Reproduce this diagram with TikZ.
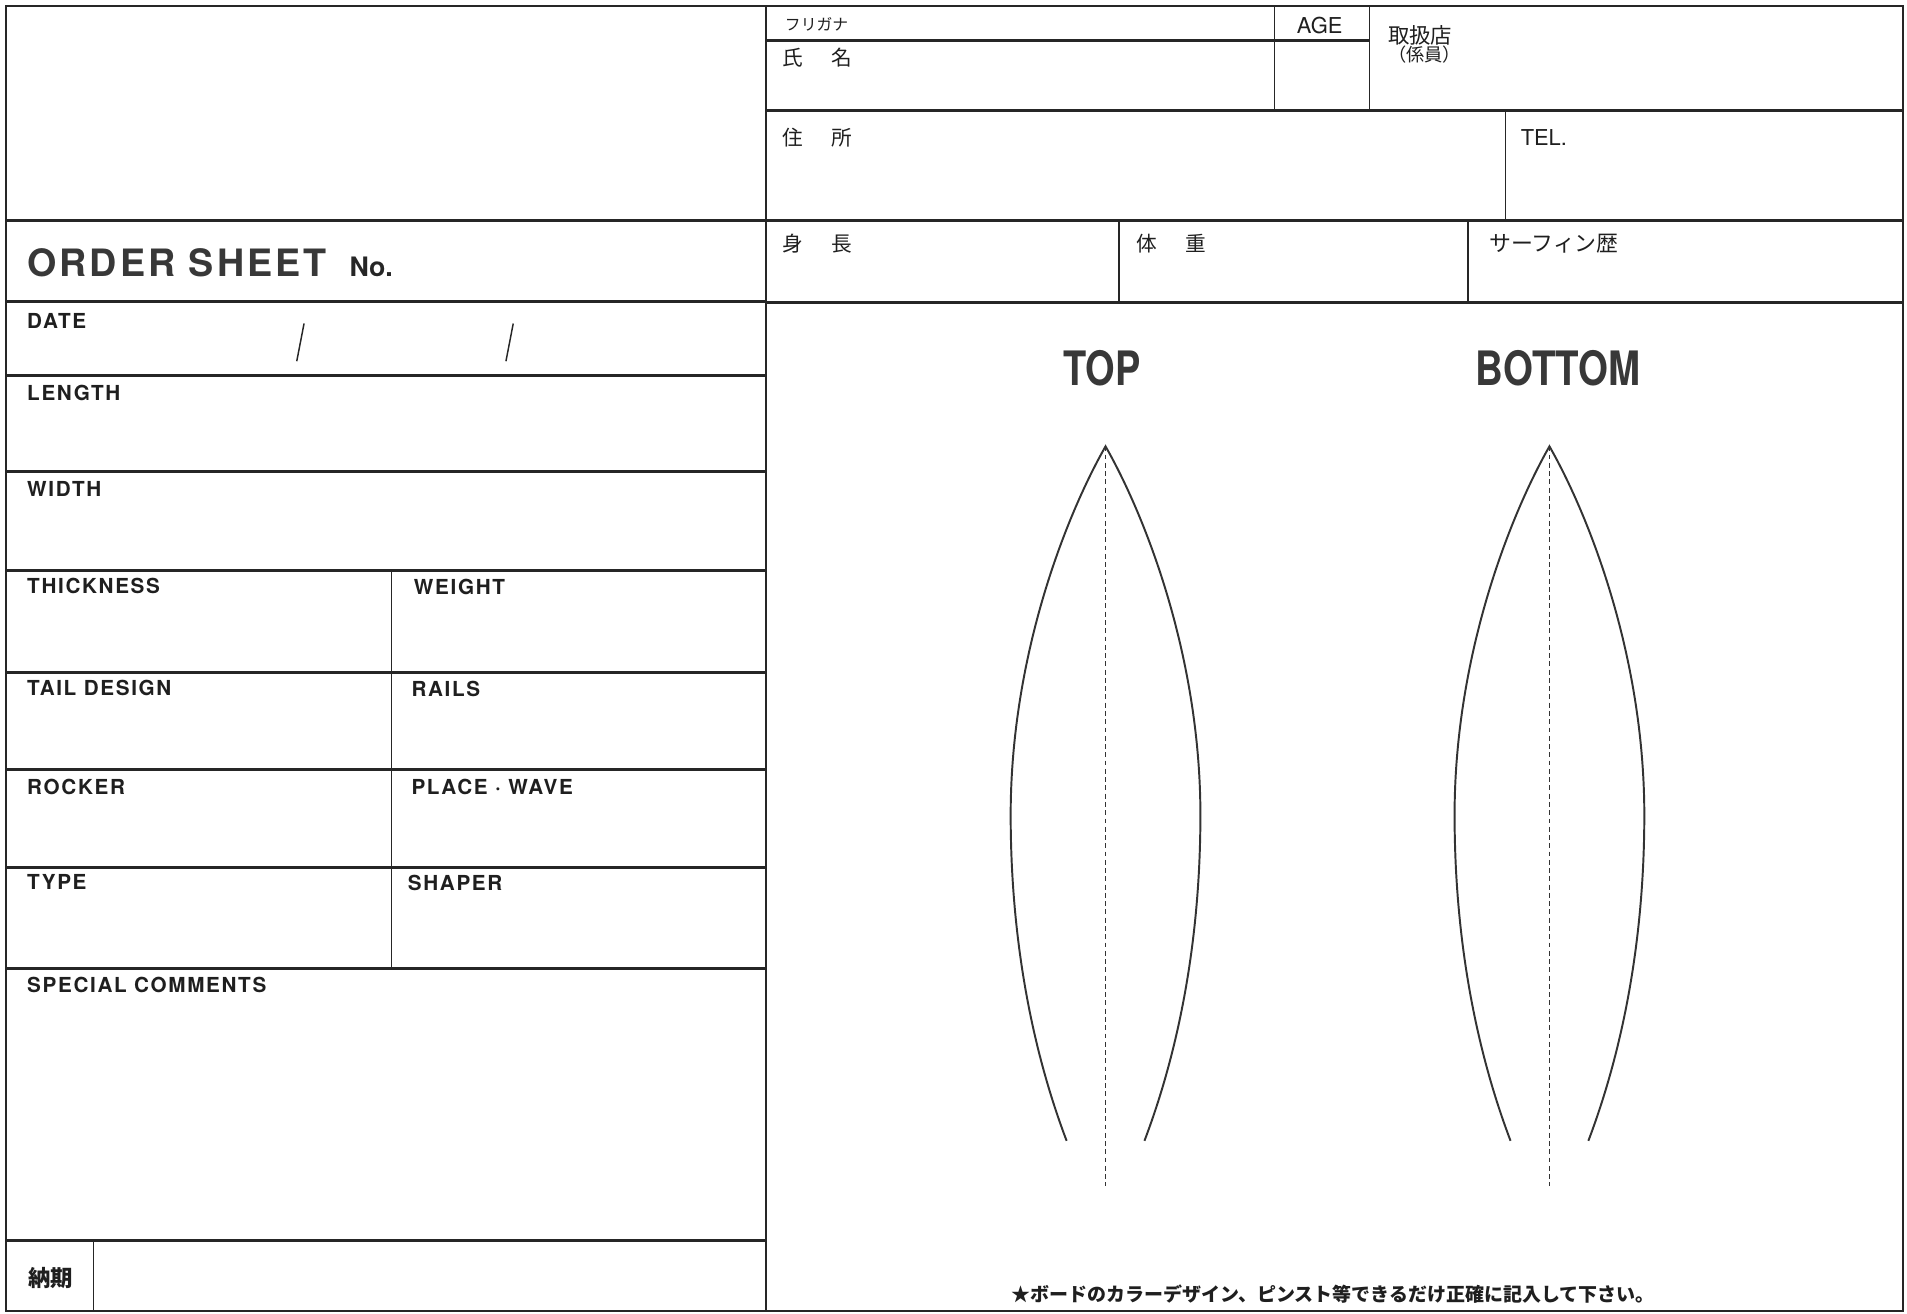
\documentclass[tikz,border=0pt]{standalone}
\usepackage{fontspec}
\usepackage{graphicx}
\setmainfont{TeX Gyre Heros}
\newfontfamily\lbl{TeX Gyre Heros}[LetterSpace=8]
\newfontfamily\jp{Noto Sans CJK JP}
\begin{document}
\begin{tikzpicture}[x=0.5pt,y=-0.5pt,
  thickline/.style={line width=1.3pt,black!85},
  thinline/.style={line width=0.6pt,black!85},
  frameline/.style={line width=0.9pt,black!85},
  boardline/.style={line width=0.8pt,black!80},
  centerline/.style={line width=0.5pt,black!80,dash pattern=on 2pt off 1.4pt},
  fld/.style={anchor=base west,inner sep=0pt,text=black!88,font=\lbl\bfseries\fontsize{8.5pt}{10pt}\selectfont},
  jpl/.style={anchor=west,inner sep=0pt,text=black!88,font=\jp\fontsize{8.5pt}{10pt}\selectfont},
  big/.style={anchor=base,inner sep=0pt,text=black!78,font=\bfseries\fontsize{19.5pt}{22pt}\selectfont}]
\useasboundingbox (0,0) rectangle (1568,1080);
\fill[white] (0,0) rectangle (1568,1080);
% outer frame and main divider
\draw[frameline] (5,5) rectangle (1565,1078);
\draw[frameline] (630,5) -- (630,1078);
% left column rows
\foreach \yy in {181,248,309,388,469,553,633,713,796,1020}
  \draw[thickline] (5,\yy) -- (630,\yy);
\draw[thinline] (322,469) -- (322,796);
\draw[thinline] (77,1020) -- (77,1078);
% right column
\draw[thickline] (630,33) -- (1126,33);
\draw[thinline] (1048,5) -- (1048,91);
\draw[thinline] (1126,5) -- (1126,91);
\draw[thickline] (630,91) -- (1565,91);
\draw[thinline] (1238,91) -- (1238,181);
\draw[thickline] (630,181) -- (1565,181);
\draw[thinline] (920,181) -- (920,249);
\draw[thinline] (1207,181) -- (1207,249);
\draw[thickline] (630,249) -- (1565,249);
% left labels
\node[anchor=base west,inner sep=0pt,text=black!78,font=\lbl\bfseries\fontsize{15.5pt}{18pt}\selectfont] (order) at (22,227) {ORDER SHEET};
\node[anchor=base west,inner sep=0pt,text=black!85,font=\bfseries\fontsize{11pt}{13pt}\selectfont] (no) at (287,227) {No.};
\node[fld] (date) at (22,270) {DATE};
\draw[thinline] (250,266) -- (244,297);
\draw[thinline] (422,266) -- (416,297);
\node[fld] (length) at (22,329) {LENGTH};
\node[fld] (width) at (22,408) {WIDTH};
\node[fld] (thick) at (22,488) {THICKNESS};
\node[fld] (weight) at (340,489) {WEIGHT};
\node[fld] (tail) at (22,572) {TAIL DESIGN};
\node[fld] (rails) at (338,573) {RAILS};
\node[fld] (rocker) at (22,653) {ROCKER};
\node[fld] (place) at (338,653) {PLACE · WAVE};
\node[fld] (type) at (22,731) {TYPE};
\node[fld] (shaper) at (335,732) {SHAPER};
\node[fld] (special) at (22,816) {SPECIAL COMMENTS};
\node[jpl,font=\jp\bfseries\fontsize{9.2pt}{10pt}\selectfont] (nouki) at (23,1051) {納期};
% right labels
\node[jpl,font=\jp\fontsize{6.5pt}{8pt}\selectfont] (furi) at (645,20) {フリガナ};
\node[anchor=west,inner sep=0pt,text=black!88,font=\fontsize{9pt}{10pt}\selectfont] (age) at (1066,21) {AGE};
\node[jpl] (shimei) at (643,47) {氏\hspace{11.5pt}名};
\node[jpl,font=\jp\fontsize{8.8pt}{10pt}\selectfont] (toriten) at (1141,29) {取扱店};
\node[jpl,font=\jp\fontsize{7.5pt}{9pt}\selectfont] (kakari) at (1141,45) {（係員）};
\node[jpl] (jusho) at (643,113) {住\hspace{11.5pt}所};
\node[anchor=west,inner sep=0pt,text=black!88,font=\fontsize{9pt}{10pt}\selectfont] (tel) at (1250,113) {TEL.};
\node[jpl] (shincho) at (643,200) {身\hspace{11.5pt}長};
\node[jpl] (taiju) at (934,200) {体\hspace{11.5pt}重};
\node[jpl,font=\jp\fontsize{9pt}{10pt}\selectfont] (reki) at (1224,200) {サーフィン歴};
% board titles
\node[big] (top) at (906,317) {\scalebox{0.8}[1]{TOP}};
\node[big] (bottom) at (1281,317) {\scalebox{0.81}[1]{BOTTOM}};
% boards
\foreach \cx/\nm in {909/a,1274/b}{
  \coordinate (tip\nm) at (\cx,367);
  \coordinate (end\nm) at (\cx,975);
  \draw[boardline] ({\cx-32},938) .. controls ({\cx-54},880) and ({\cx-78},790) .. ({\cx-78},670)
     .. controls ({\cx-78},540) and ({\cx-33},425) .. (tip\nm)
     .. controls ({\cx+33},425) and ({\cx+78},540) .. ({\cx+78},670)
     .. controls ({\cx+78},790) and ({\cx+54},880) .. ({\cx+32},938);
  \draw[centerline] (tip\nm) -- (end\nm);
}
% note
\node[anchor=center,inner sep=0pt,text=black!88,font=\jp\bfseries\fontsize{7.8pt}{9pt}\selectfont] (note) at (1096,1064) {★ボードのカラーデザイン、ピンスト等できるだけ正確に記入して下さい。};
\end{tikzpicture}
\end{document}
